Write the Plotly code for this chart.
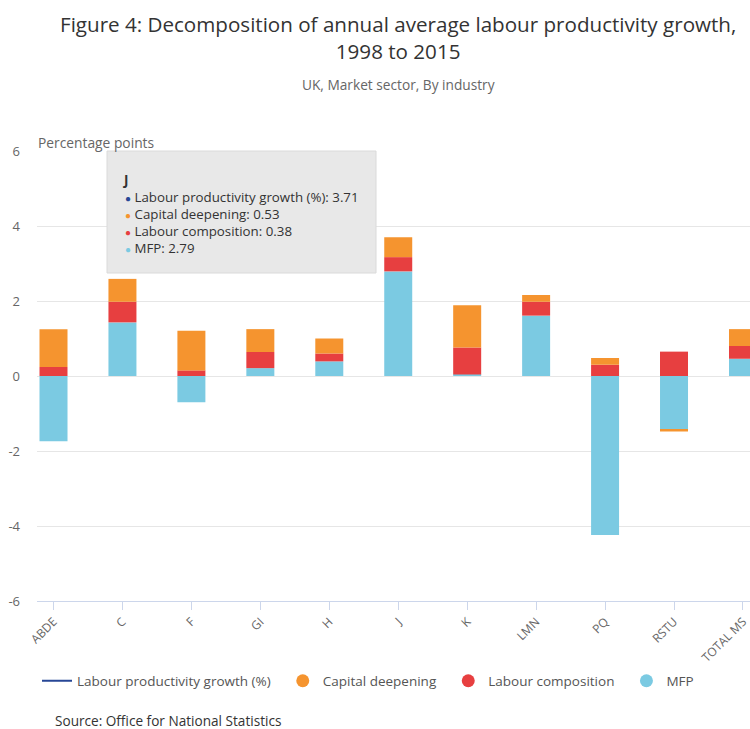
import plotly.graph_objects as go

categories = ["ABDE", "C", "F", "GI", "H", "J", "K", "LMN", "PQ", "RSTU", "TOTAL MS"]
lp_growth = [-0.49, 2.59, 0.51, 1.25, 1.00, 3.71, 1.89, 2.16, -3.76, -0.83, 1.25]
capital_deepening = [1.01, 0.61, 1.06, 0.61, 0.40, 0.53, 1.13, 0.18, 0.18, -0.05, 0.45]
labour_composition = [0.24, 0.55, 0.15, 0.43, 0.21, 0.38, 0.72, 0.37, 0.30, 0.65, 0.34]
mfp = [-1.74, 1.43, -0.70, 0.21, 0.39, 2.79, 0.04, 1.61, -4.24, -1.43, 0.46]
y_ticks = [-6, -4, -2, 0, 2, 4, 6]

C_LP = "#274796"
C_CD = "#F5942F"
C_LC = "#E73F40"
C_MFP = "#7BCAE2"
FONT = "Open Sans"
PAD = "\u00a0\u00a0"

W, H = 750, 729
L, R, T, B = 37, 0, 151, 128
PW, PH = W - L - R, H - T - B


def px(x):
    return (x - L) / PW


def py(y):
    return (H - B - y) / PH


fig = go.Figure()
fig.add_trace(go.Bar(x=categories, y=mfp, name="MFP", marker_color=C_MFP,
                     marker_line_width=0, showlegend=False))
fig.add_trace(go.Bar(x=categories, y=labour_composition, name="Labour composition",
                     marker_color=C_LC, marker_line_width=0, showlegend=False))
fig.add_trace(go.Bar(x=categories, y=capital_deepening, name="Capital deepening",
                     marker_color=C_CD, marker_line_width=0, showlegend=False))
# Labour productivity growth series: not visible on the plot in the original
fig.add_trace(go.Scatter(x=categories, y=lp_growth, mode="lines", line=dict(width=0, color=C_LP),
                         showlegend=False, hoverinfo="skip"))

# legend keys
fig.add_trace(go.Scatter(x=[None], y=[None], mode="lines", name="Labour productivity growth (%)" + PAD,
                         line=dict(color=C_LP, width=2), legendrank=1))
for nm, col, rk in [("Capital deepening", C_CD, 2), ("Labour composition", C_LC, 3), ("MFP", C_MFP, 4)]:
    fig.add_trace(go.Scatter(x=[None], y=[None], mode="markers", name=nm + (PAD if rk < 4 else ""),
                             marker=dict(color=col, size=13, symbol="circle"), legendrank=rk))

fig.update_layout(
    width=W, height=H,
    margin=dict(l=L, r=R, t=T, b=B, autoexpand=False),
    barmode="relative",
    bargap=0.594,
    plot_bgcolor="white", paper_bgcolor="white",
    font=dict(family=FONT, color="#666666"),
    showlegend=True,
    legend=dict(orientation="h", x=px(37), xanchor="left", y=py(681), yanchor="middle",
                font=dict(size=13.5, color="#555555"), traceorder="normal",
                itemclick=False, itemsizing="trace"),
    hovermode=False,
)

fig.update_xaxes(
    type="category", range=[-0.2393, 10.102],
    showline=True, linecolor="#ccd6eb", linewidth=1,
    ticks="outside", ticklen=8, tickcolor="#ccd6eb", tickwidth=1,
    tickangle=-45, tickfont=dict(size=12, color="#666666"),
    showgrid=False, fixedrange=True,
)
fig.update_yaxes(
    range=[-6, 6], tickvals=y_ticks, ticktext=[str(v) for v in y_ticks],
    showgrid=True, gridcolor="#e6e6e6", gridwidth=1, zeroline=False,
    tickfont=dict(size=13, color="#666666"), ticklabelstandoff=16,
    fixedrange=True,
)

# title
fig.add_annotation(text="Figure 4: Decomposition of annual average labour productivity growth,<br>1998 to 2015",
                   xref="paper", yref="paper", x=px(398), y=py(8), xanchor="center", yanchor="top",
                   showarrow=False, align="center",
                   font=dict(family=FONT, size=20.6, color="#333333"))
# subtitle
fig.add_annotation(text="UK, Market sector, By industry", xref="paper", yref="paper",
                   x=px(398), y=py(84), xanchor="center", yanchor="middle", showarrow=False,
                   font=dict(family=FONT, size=13.7, color="#666666"))
# axis title
fig.add_annotation(text="Percentage points", xref="paper", yref="paper",
                   x=px(36), y=py(142), xanchor="left", yanchor="middle", showarrow=False,
                   font=dict(family=FONT, size=13.8, color="#666666"))
# source
fig.add_annotation(text="Source: Office for National Statistics", xref="paper", yref="paper",
                   x=px(53), y=py(720), xanchor="left", yanchor="middle", showarrow=False,
                   font=dict(family=FONT, size=13.6, color="#333333"))

# tooltip (static, for category J)
j = categories.index("J")
fig.add_shape(type="rect", xref="paper", yref="paper", x0=px(107), x1=px(376), y0=py(273), y1=py(151),
              fillcolor="#e8e8e8", line=dict(color="#dadada", width=1), layer="above")
fig.add_annotation(text="<b>" + categories[j] + "</b>", xref="paper", yref="paper",
                   x=px(121), y=py(180), xanchor="left", yanchor="middle", showarrow=False,
                   font=dict(family=FONT, size=13.5, color="#333333"))
tip_rows = [("Labour productivity growth (%)", lp_growth[j], C_LP),
            ("Capital deepening", capital_deepening[j], C_CD),
            ("Labour composition", labour_composition[j], C_LC),
            ("MFP", mfp[j], C_MFP)]
for i, (name, val, col) in enumerate(tip_rows):
    fig.add_annotation(
        text=f"<span style='color:{col};font-size:10px'>●</span> {name}: {val:.2f}",
        xref="paper", yref="paper", x=px(123), y=py(197 + 17 * i),
        xanchor="left", yanchor="middle", showarrow=False,
        font=dict(family=FONT, size=13.3, color="#333333"))

fig.write_html("out.html")
